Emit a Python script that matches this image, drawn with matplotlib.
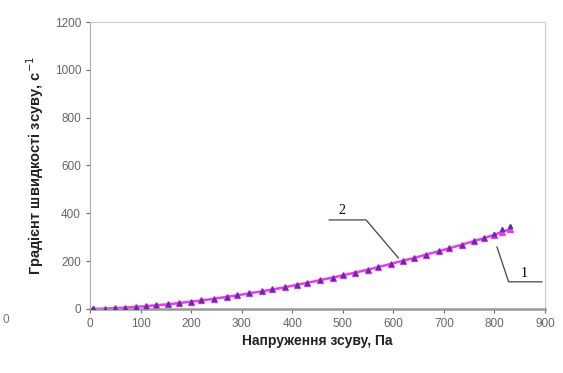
import matplotlib.pyplot as plt

# series 1 - triangles, series 2 - magenta line
x1 = [5, 30, 50, 70, 90, 110, 130, 155, 175, 200, 220, 245, 270, 290, 315, 340, 360, 385,
      410, 430, 455, 480, 500, 525, 550, 570, 595, 620, 640, 665, 690, 710, 735, 760, 780,
      800, 815, 830]
y1 = [2, 1, 3, 5, 8, 12, 15, 20, 24, 30, 35, 42, 50, 56, 65, 73, 81, 90,
      101, 109, 120, 131, 140, 152, 164, 175, 188, 202, 212, 227, 241, 253, 268, 284, 296,
      312, 335, 345]
x2 = [5, 30, 50, 70, 90, 110, 130, 155, 175, 200, 220, 245, 270, 290, 315, 340, 360, 385,
      410, 430, 455, 480, 500, 525, 550, 570, 595, 620, 640, 665, 690, 710, 735, 760, 780,
      800, 815, 830]
y2 = [0, 1, 3, 5, 8, 11, 15, 19, 24, 30, 35, 42, 50, 56, 65, 73, 81, 90,
      101, 109, 120, 131, 140, 152, 164, 175, 188, 202, 212, 227, 241, 253, 268, 284, 296,
      310, 322, 332]

plt.rcParams['font.family'] = ['Liberation Sans', 'DejaVu Sans']

fig = plt.figure(figsize=(5.63, 3.73), dpi=100)
ax = fig.add_axes([0.160, 0.172, 0.808, 0.769])

ax.plot(x2, y2, color='#e040e8', lw=1.8, marker='^', ms=4, zorder=2)
ax.plot(x1, y1, ls='none', marker='^', color='#6a2aa8', ms=3, zorder=3)

ax.set_xlim(0, 900)
ax.set_ylim(0, 1200)
ax.set_xticks(range(0, 901, 100))
ax.set_yticks(range(0, 1201, 200))
ax.tick_params(labelsize=8.5, colors='#666666', length=3, width=0.8)
for s in ['top', 'right']:
    ax.spines[s].set_color('#cccccc')
ax.spines['left'].set_color('#aaaaaa')
ax.spines['bottom'].set_color('#999999')
ax.spines['bottom'].set_linewidth(1.8)

ax.set_xlabel('Напруження зсуву, Па', fontsize=10, fontweight='bold', color='#222222', labelpad=3)
ax.set_ylabel('Градієнт швидкості зсуву, с$^{-1}$', fontsize=10.5, fontweight='bold',
              color='#222222', labelpad=6)

# curve labels
ax.plot([473, 546, 610], [372, 372, 213], color='#444444', lw=0.9, clip_on=False)
ax.text(499, 385, '2', family='Liberation Serif', fontsize=10, ha='center', va='bottom')
ax.plot([894, 828, 805], [113, 113, 259], color='#444444', lw=0.9, clip_on=False)
ax.text(858, 122, '1', family='Liberation Serif', fontsize=10, ha='center', va='bottom')

fig.text(0.005, 0.135, '0', fontsize=8.5, color='#777777')

fig.savefig('out.png', dpi=100)
